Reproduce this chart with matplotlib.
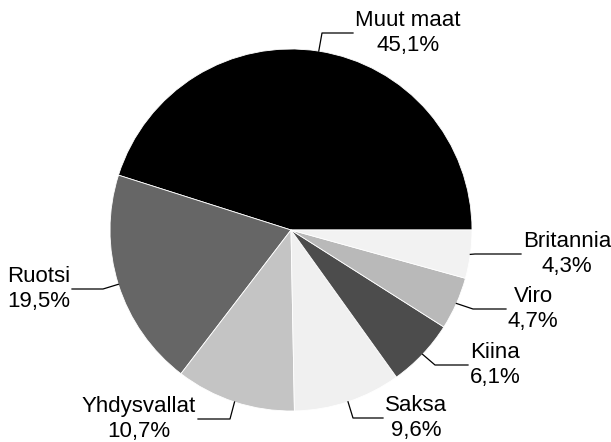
import numpy as np
import matplotlib
matplotlib.use("Agg")
import matplotlib.pyplot as plt

# ---- data ----
countries = ["Muut maat", "Ruotsi", "Yhdysvallat", "Saksa", "Kiina", "Viro", "Britannia"]
shares = [45.1, 19.5, 10.7, 9.6, 6.1, 4.7, 4.3]
share_labels = ["45,1%", "19,5%", "10,7%", "9,6%", "6,1%", "4,7%", "4,3%"]

# ---- style / layout ----
colors = ["#000000", "#666666", "#c4c4c4", "#f0f0f0", "#4c4c4c", "#b9b9b9", "#f2f2f2"]
W, H = 611, 442
CX, CY, R = 291, 212, 181
# leader elbow and end (pixel coords, y up), text alignment side
leaders = [
    ((322, 409), (353, 409), "left"),
    ((103, 153), (72, 153), "right"),
    ((230, 23), (198, 23), "right"),
    ((353, 24), (383, 24), "left"),
    ((435, 77), (468, 77), "left"),
    ((473, 133), (506, 133), "left"),
    ((475, 188), (521, 188), "left"),
]

plt.rcParams["font.family"] = ["Liberation Sans", "DejaVu Sans"]

fig = plt.figure(figsize=(W / 100, H / 100), dpi=100)
ax = fig.add_axes([0, 0, 1, 1])
wedges, _ = ax.pie(shares, colors=colors, startangle=0, counterclock=True,
                   center=(CX, CY), radius=R, frame=True,
                   wedgeprops=dict(edgecolor="white", linewidth=0.6))
ax.set_xlim(0, W)
ax.set_ylim(0, H)
ax.set_aspect("equal")
ax.axis("off")

for w, name, lab, (elbow, end, side) in zip(wedges, countries, share_labels, leaders):
    mid = np.deg2rad((w.theta1 + w.theta2) / 2)
    ex = CX + R * np.cos(mid)
    ey = CY + R * np.sin(mid)
    ax.plot([ex, elbow[0], end[0]], [ey, elbow[1], end[1]], color="black", lw=0.9)
    tx = end[0] + (2 if side == "left" else -2)
    ax.text(tx, end[1], f"{name}\n{lab}", ha=side, va="center", multialignment="center",
            fontsize=16, linespacing=1.27, color="black")

fig.savefig("out.png", dpi=100)
